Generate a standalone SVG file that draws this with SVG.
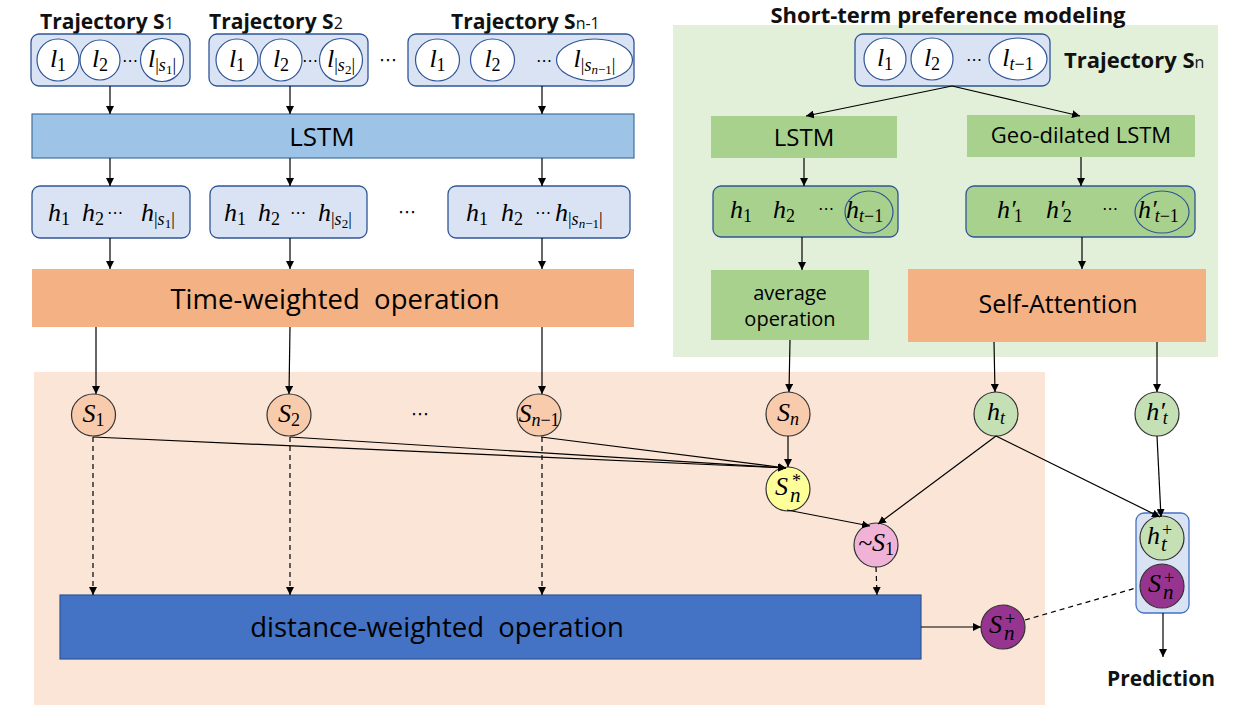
<svg xmlns="http://www.w3.org/2000/svg" width="1243" height="713" viewBox="0 0 1243 713">
<defs>
<marker id="ah" viewBox="0 0 10 10" refX="10" refY="5" markerWidth="8" markerHeight="8" markerUnits="userSpaceOnUse" orient="auto"><path d="M0,0 L10,5 L0,10 z" fill="#000"/></marker>
<style>
.lbl{font-family:"Open Sans","Noto Sans",sans-serif;fill:#000}
.ttl{font-family:"Open Sans","Noto Sans",sans-serif;font-weight:bold;font-size:21px;fill:#111}
.ttl2{font-size:22px}
.sub{font-size:16px;font-weight:normal}
.m{font-family:"Liberation Serif","DejaVu Serif",serif;font-style:italic;font-size:26px;fill:#000}
.s{font-size:18px;font-style:normal}
.si{font-size:18px;font-style:italic}
.ss{font-size:13px;font-style:normal}
.ssi{font-size:13px;font-style:italic}
.sup{font-size:18px;font-style:normal}
.sb2{font-size:21px;font-style:italic}
.dots{font-family:"DejaVu Sans",sans-serif;font-size:16px;fill:#000}
.dots2{font-size:18px}
.tb{fill:#DAE3F3;stroke:#2F5597;stroke-width:1.3}
.lc{fill:#fff;stroke:#2F5597;stroke-width:1.2}
.gb{fill:#A9D18E;stroke:#2F5597;stroke-width:1.3}
.ring{fill:none;stroke:#2F5597;stroke-width:1.2}
.nd{stroke:#333;stroke-width:1.2}
.ln{stroke:#000;stroke-width:1.2;fill:none}
.dash{stroke:#000;stroke-width:1.2;fill:none;stroke-dasharray:5 4}
</style>
</defs>

<!-- backgrounds -->
<rect id="panel-short" x="673" y="25" width="545" height="332" fill="#E2F0D9"/>
<rect id="panel-bottom" x="34" y="372" width="1011" height="333" fill="#FBE5D6"/>

<!-- titles -->
<g id="titles">
<text class="ttl" x="40" y="29">Trajectory S<tspan class="sub">1</tspan></text>
<text class="ttl" x="209" y="29">Trajectory S<tspan class="sub">2</tspan></text>
<text class="ttl" x="451" y="29">Trajectory S<tspan class="sub">n-1</tspan></text>
<text class="ttl ttl2" x="948" y="23" text-anchor="middle">Short-term preference modeling</text>
<text class="ttl ttl2" x="1064" y="68">Trajectory S<tspan class="sub">n</tspan></text>
<text class="ttl" x="1161" y="686" text-anchor="middle">Prediction</text>
</g>

<!-- trajectory S1 -->
<g id="traj1">
<rect class="tb" x="31" y="34" width="159" height="52" rx="8"/>
<circle class="lc" cx="58" cy="60" r="21"/>
<circle class="lc" cx="100" cy="60" r="20"/>
<circle class="lc" cx="162" cy="60" r="21.5"/>
<text class="m" x="58" y="67" text-anchor="middle">l<tspan class="s" dy="4">1</tspan></text>
<text class="m" x="100" y="67" text-anchor="middle">l<tspan class="s" dy="4">2</tspan></text>
<text class="dots" x="130" y="66" text-anchor="middle">⋯</text>
<text class="m" x="162" y="67" text-anchor="middle">l<tspan class="s" dy="4">|</tspan><tspan class="si">s</tspan><tspan class="ss" dy="3">1</tspan><tspan class="s" dy="-3">|</tspan></text>
</g>

<!-- trajectory S2 -->
<g id="traj2">
<rect class="tb" x="209" y="34" width="159" height="52" rx="8"/>
<circle class="lc" cx="237" cy="60" r="21"/>
<circle class="lc" cx="281" cy="60" r="21"/>
<circle class="lc" cx="341" cy="60" r="21.5"/>
<text class="m" x="237" y="67" text-anchor="middle">l<tspan class="s" dy="4">1</tspan></text>
<text class="m" x="281" y="67" text-anchor="middle">l<tspan class="s" dy="4">2</tspan></text>
<text class="dots" x="310" y="66" text-anchor="middle">⋯</text>
<text class="m" x="341" y="67" text-anchor="middle">l<tspan class="s" dy="4">|</tspan><tspan class="si">s</tspan><tspan class="ss" dy="3">2</tspan><tspan class="s" dy="-3">|</tspan></text>
</g>

<text class="dots dots2" x="388" y="66" text-anchor="middle">⋯</text>

<!-- trajectory Sn-1 -->
<g id="traj3">
<rect class="tb" x="408" y="34" width="226" height="52" rx="8"/>
<ellipse class="lc" cx="437.5" cy="60" rx="22" ry="21"/>
<ellipse class="lc" cx="492.5" cy="60" rx="22" ry="21"/>
<ellipse class="lc" cx="594.5" cy="60" rx="38" ry="21"/>
<text class="m" x="437.5" y="67" text-anchor="middle">l<tspan class="s" dy="4">1</tspan></text>
<text class="m" x="492.5" y="67" text-anchor="middle">l<tspan class="s" dy="4">2</tspan></text>
<text class="dots" x="544" y="66" text-anchor="middle">⋯</text>
<text class="m" x="594.5" y="67" text-anchor="middle">l<tspan class="s" dy="4">|</tspan><tspan class="si">s</tspan><tspan class="ssi" dy="3">n</tspan><tspan class="ss">−1</tspan><tspan class="s" dy="-3">|</tspan></text>
</g>

<!-- LSTM bar -->
<g id="lstm-left">
<rect x="32" y="114" width="602" height="44" fill="#9DC3E6" stroke="#41719C" stroke-width="1.2"/>
<text class="lbl" x="322" y="146" text-anchor="middle" font-size="26">LSTM</text>
</g>

<!-- h boxes -->
<g id="hbox1">
<rect class="tb" x="32" y="186" width="158" height="52" rx="8"/>
<text class="m" x="48" y="221">h<tspan class="s" dy="4">1</tspan></text>
<text class="m" x="82" y="221">h<tspan class="s" dy="4">2</tspan></text>
<text class="dots" x="115" y="218" text-anchor="middle">⋯</text>
<text class="m" x="141" y="221">h<tspan class="s" dy="4">|</tspan><tspan class="si">s</tspan><tspan class="ss" dy="3">1</tspan><tspan class="s" dy="-3">|</tspan></text>
</g>
<g id="hbox2">
<rect class="tb" x="210" y="186" width="157" height="52" rx="8"/>
<text class="m" x="224" y="221">h<tspan class="s" dy="4">1</tspan></text>
<text class="m" x="258" y="221">h<tspan class="s" dy="4">2</tspan></text>
<text class="dots" x="298" y="218" text-anchor="middle">⋯</text>
<text class="m" x="318" y="221">h<tspan class="s" dy="4">|</tspan><tspan class="si">s</tspan><tspan class="ss" dy="3">2</tspan><tspan class="s" dy="-3">|</tspan></text>
</g>
<text class="dots dots2" x="407" y="218" text-anchor="middle">⋯</text>
<g id="hbox3">
<rect class="tb" x="448" y="186" width="182" height="52" rx="8"/>
<text class="m" x="466" y="221">h<tspan class="s" dy="4">1</tspan></text>
<text class="m" x="501" y="221">h<tspan class="s" dy="4">2</tspan></text>
<text class="dots" x="543" y="218" text-anchor="middle">⋯</text>
<text class="m" x="555" y="221">h<tspan class="s" dy="4">|</tspan><tspan class="si">s</tspan><tspan class="ssi" dy="3">n</tspan><tspan class="ss">−1</tspan><tspan class="s" dy="-3">|</tspan></text>
</g>

<!-- time weighted -->
<g id="time-weighted">
<rect x="32" y="269" width="602" height="58" fill="#F4B183"/>
<text class="lbl" x="335" y="309" text-anchor="middle" font-size="27.5" xml:space="preserve">Time-weighted  operation</text>
</g>

<!-- short-term panel -->
<g id="trajn">
<rect class="tb" x="855" y="34" width="195" height="52" rx="8"/>
<circle class="lc" cx="885" cy="59" r="21"/>
<circle class="lc" cx="932" cy="59" r="21"/>
<ellipse class="lc" cx="1018" cy="59" rx="29" ry="21"/>
<text class="m" x="885" y="66" text-anchor="middle">l<tspan class="s" dy="4">1</tspan></text>
<text class="m" x="932" y="66" text-anchor="middle">l<tspan class="s" dy="4">2</tspan></text>
<text class="dots" x="974" y="65" text-anchor="middle">⋯</text>
<text class="m" x="1018" y="66" text-anchor="middle">l<tspan class="si" dy="4">t</tspan><tspan class="s">−1</tspan></text>
</g>
<g id="lstm-right">
<rect x="711" y="116" width="186" height="42" fill="#A9D18E"/>
<text class="lbl" x="804" y="146" text-anchor="middle" font-size="24">LSTM</text>
</g>
<g id="geo-lstm">
<rect x="967" y="115" width="228" height="42" fill="#A9D18E"/>
<text class="lbl" x="1081" y="143" text-anchor="middle" font-size="22">Geo-dilated LSTM</text>
</g>
<g id="hbox-r1">
<rect class="gb" x="713" y="186" width="185" height="51" rx="8"/>
<text class="m" x="730" y="218">h<tspan class="s" dy="4">1</tspan></text>
<text class="m" x="773" y="218">h<tspan class="s" dy="4">2</tspan></text>
<text class="dots" x="826" y="214" text-anchor="middle">⋯</text>
<ellipse class="ring" cx="869" cy="212" rx="24" ry="21"/>
<text class="m" x="846" y="218">h<tspan class="si" dy="4">t</tspan><tspan class="s">−1</tspan></text>
</g>
<g id="hbox-r2">
<rect class="gb" x="966" y="186" width="229" height="51" rx="8"/>
<text class="m" x="997" y="218">h′<tspan class="s" dy="4" dx="-2">1</tspan></text>
<text class="m" x="1046" y="218">h′<tspan class="s" dy="4" dx="-2">2</tspan></text>
<text class="dots" x="1110" y="214" text-anchor="middle">⋯</text>
<ellipse class="ring" cx="1162" cy="212" rx="27" ry="21"/>
<text class="m" x="1138" y="218">h′<tspan class="si" dy="4" dx="-2">t</tspan><tspan class="s">−1</tspan></text>
</g>
<g id="avg-op">
<rect x="711" y="270" width="158" height="70" fill="#A9D18E"/>
<text class="lbl" x="790" y="300" text-anchor="middle" font-size="20">average</text>
<text class="lbl" x="790" y="326" text-anchor="middle" font-size="20">operation</text>
</g>
<g id="self-attention">
<rect x="908" y="269" width="298" height="73" fill="#F4B183"/>
<text class="lbl" x="1058" y="313" text-anchor="middle" font-size="25">Self-Attention</text>
</g>

<!-- distance weighted -->
<g id="distance-weighted">
<rect x="60" y="595" width="861" height="64" fill="#4472C4" stroke="#2F5597" stroke-width="1.2"/>
<text class="lbl" x="437" y="637" text-anchor="middle" font-size="27.5" xml:space="preserve">distance-weighted  operation</text>
</g>

<!-- nodes -->
<g id="node-s1">
<ellipse class="nd" cx="93.5" cy="415" rx="22" ry="21" fill="#F8CBAD"/>
<text class="m" x="93.5" y="422" text-anchor="middle">S<tspan class="s" dy="4">1</tspan></text>
</g>
<g id="node-s2">
<ellipse class="nd" cx="289" cy="415" rx="22" ry="21" fill="#F8CBAD"/>
<text class="m" x="289" y="422" text-anchor="middle">S<tspan class="s" dy="4">2</tspan></text>
</g>
<text class="dots dots2" x="420" y="420" text-anchor="middle">⋯</text>
<g id="node-sn1">
<ellipse class="nd" cx="539" cy="415" rx="22" ry="21" fill="#F8CBAD"/>
<text class="m" x="539" y="422" text-anchor="middle">S<tspan class="si" dy="4">n</tspan><tspan class="s">−1</tspan></text>
</g>
<g id="node-sn">
<circle class="nd" cx="788" cy="414" r="22" fill="#F8CBAD"/>
<text class="m" x="788" y="421" text-anchor="middle">S<tspan class="si" dy="4">n</tspan></text>
</g>
<g id="node-ht">
<circle class="nd" cx="996" cy="414" r="22" fill="#C5E0B4"/>
<text class="m" x="996" y="420" text-anchor="middle">h<tspan class="si" dy="4">t</tspan></text>
</g>
<g id="node-hpt">
<circle class="nd" cx="1157" cy="414" r="22" fill="#C5E0B4"/>
<text class="m" x="1157" y="420" text-anchor="middle">h′<tspan class="si" dy="4" dx="-2">t</tspan></text>
</g>
<g id="node-snstar">
<circle class="nd" cx="788" cy="489" r="22" fill="#FFFF99"/>
<text class="m" x="775" y="495">S<tspan class="s" x="792" dy="-8">*</tspan><tspan class="sb2" x="790" dy="15">n</tspan></text>
</g>
<g id="node-negs1">
<circle class="nd" cx="876" cy="545" r="22" fill="#F0B3D7"/>
<text class="m" x="876" y="551" text-anchor="middle">~S<tspan class="s" dy="4">1</tspan></text>
</g>
<g id="node-snplus">
<circle class="nd" cx="1003" cy="627" r="22" fill="#96348F"/>
<text class="m" x="989" y="633">S<tspan class="sup" x="1005" dy="-8">+</tspan><tspan class="sb2" x="1004" dy="15">n</tspan></text>
</g>
<g id="combined">
<rect x="1136" y="513" width="53" height="100" rx="8" fill="#DAE3F3" stroke="#4472C4" stroke-width="1.3"/>
<circle class="nd" cx="1162" cy="538" r="22" fill="#C5E0B4"/>
<text class="m" x="1147" y="544">h<tspan class="sup" x="1162" dy="-8">+</tspan><tspan class="sb2" x="1161" dy="15">t</tspan></text>
<circle class="nd" cx="1162" cy="586" r="22" fill="#96348F"/>
<text class="m" x="1148" y="592">S<tspan class="sup" x="1164" dy="-8">+</tspan><tspan class="sb2" x="1163" dy="15">n</tspan></text>
</g>

<!-- connectors -->
<g id="connectors">
<line class="ln" x1="110" y1="86" x2="110" y2="114" marker-end="url(#ah)"/>
<line class="ln" x1="290" y1="86" x2="290" y2="114" marker-end="url(#ah)"/>
<line class="ln" x1="542" y1="86" x2="542" y2="114" marker-end="url(#ah)"/>
<line class="ln" x1="110" y1="158" x2="110" y2="186" marker-end="url(#ah)"/>
<line class="ln" x1="290" y1="158" x2="290" y2="186" marker-end="url(#ah)"/>
<line class="ln" x1="542" y1="158" x2="542" y2="186" marker-end="url(#ah)"/>
<line class="ln" x1="110" y1="238" x2="110" y2="269" marker-end="url(#ah)"/>
<line class="ln" x1="290" y1="238" x2="290" y2="269" marker-end="url(#ah)"/>
<line class="ln" x1="542" y1="238" x2="542" y2="269" marker-end="url(#ah)"/>
<line class="ln" x1="96" y1="327" x2="96" y2="394" marker-end="url(#ah)"/>
<line class="ln" x1="290" y1="327" x2="289" y2="394" marker-end="url(#ah)"/>
<line class="ln" x1="542" y1="327" x2="542" y2="394" marker-end="url(#ah)"/>
<line class="ln" x1="952" y1="86" x2="806" y2="116" marker-end="url(#ah)"/>
<line class="ln" x1="952" y1="86" x2="1080" y2="116" marker-end="url(#ah)"/>
<line class="ln" x1="804" y1="158" x2="804" y2="186" marker-end="url(#ah)"/>
<line class="ln" x1="1081" y1="157" x2="1081" y2="186" marker-end="url(#ah)"/>
<line class="ln" x1="802" y1="237" x2="802" y2="270" marker-end="url(#ah)"/>
<line class="ln" x1="1082" y1="237" x2="1082" y2="269" marker-end="url(#ah)"/>
<line class="ln" x1="790" y1="340" x2="789" y2="392" marker-end="url(#ah)"/>
<line class="ln" x1="994" y1="342" x2="995" y2="392" marker-end="url(#ah)"/>
<line class="ln" x1="1157" y1="342" x2="1157" y2="392" marker-end="url(#ah)"/>
<line class="ln" x1="93" y1="437" x2="786" y2="468" marker-end="url(#ah)"/>
<line class="ln" x1="290" y1="437" x2="786" y2="468" marker-end="url(#ah)"/>
<line class="ln" x1="541" y1="437" x2="786" y2="468" marker-end="url(#ah)"/>
<line class="ln" x1="788" y1="436" x2="788" y2="467" marker-end="url(#ah)"/>
<line class="ln" x1="787" y1="510" x2="870" y2="526" marker-end="url(#ah)"/>
<line class="ln" x1="996" y1="436" x2="878" y2="524" marker-end="url(#ah)"/>
<line class="ln" x1="996" y1="436" x2="1160" y2="517" marker-end="url(#ah)"/>
<line class="ln" x1="1157" y1="436" x2="1161" y2="517" marker-end="url(#ah)"/>
<line class="dash" x1="93" y1="437" x2="93" y2="595" marker-end="url(#ah)"/>
<line class="dash" x1="290" y1="437" x2="290" y2="595" marker-end="url(#ah)"/>
<line class="dash" x1="542" y1="437" x2="542" y2="595" marker-end="url(#ah)"/>
<line class="dash" x1="876" y1="567" x2="877" y2="595" marker-end="url(#ah)"/>
<line class="ln" x1="921" y1="627" x2="981" y2="627" marker-end="url(#ah)"/>
<line class="dash" x1="1025" y1="620" x2="1136" y2="588"/>
<line class="ln" x1="1163" y1="613" x2="1163" y2="657" marker-end="url(#ah)"/>
</g>
</svg>
